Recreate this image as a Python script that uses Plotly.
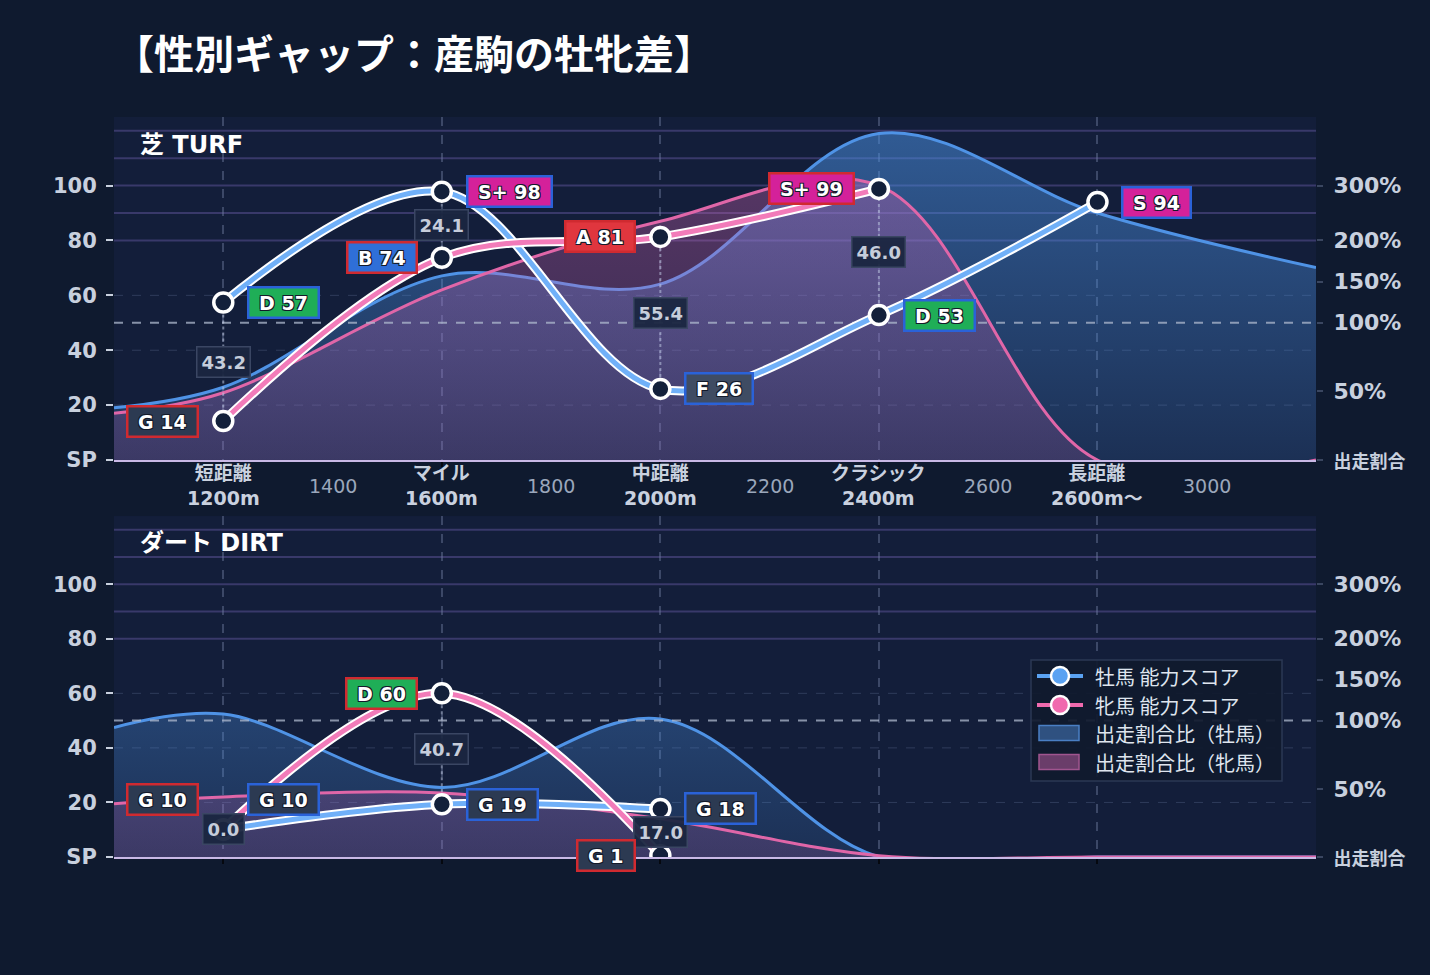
import plotly.graph_objects as go

# ---------------- data ----------------
cat_x = [1200, 1600, 2000, 2400, 2800]
cat_names = ["短距離", "マイル", "中距離", "クラシック", "長距離"]
cat_dist = ["1200m", "1600m", "2000m", "2400m", "2600m～"]
minor_x = [1400, 1800, 2200, 2600, 3000]

turf_male_score = [57.4, 97.8, 25.9, 52.8, 94.0]
turf_female_score = [14.2, 73.7, 81.3, 98.8, None]
turf_male_grade = ["D", "S+", "F", "D", "S"]
turf_female_grade = ["G", "B", "A", "S+", None]

dirt_male_score = [10.1, 19.3, 17.6, None, None]
dirt_female_score = [10.1, 60.0, 0.6, None, None]
dirt_male_grade = ["G", "G", "G", None, None]
dirt_female_grade = ["G", "D", "G", None, None]

ratio_x = [1000, 1200, 1600, 2000, 2400, 2800, 3200]
turf_male_ratio = [38, 53, 157, 147, 395, 250, 167]
turf_female_ratio = [34, 49, 140, 235, 300, 0, 0]
dirt_male_ratio = [95, 108, 51, 102, 0, 0, 0]
dirt_female_ratio = [39, 44, 47, 28, 1, 0, 0]

score_ticks = [0, 20, 40, 60, 80, 100]
score_tick_text = ["SP", "20", "40", "60", "80", "100"]
ratio_ticks = [0, 50, 100, 150, 200, 300]
ratio_tick_text = ["出走割合", "50%", "100%", "150%", "200%", "300%"]

legend_names = ["牡馬 能力スコア", "牝馬 能力スコア", "出走割合比（牡馬）", "出走割合比（牝馬）"]

# ---------------- styles ----------------
FONT = "DejaVu Sans, Noto Sans CJK JP, sans-serif"
CJK = "Noto Sans CJK JP, sans-serif"
PAPER = "#0f1a2f"
PLOT = "#131e3a"
MALE_AREA = "#4f93e6"
FEMALE_AREA = "#e066a8"
MALE_LINE = "#70b0f8"
FEMALE_LINE = "#f27bb9"
MALE_BORDER = "#2a62d8"
FEMALE_BORDER = "#d02a30"
GRADE_COLORS = {"S+": "#d4219a", "S": "#d4219a", "A": "#e0363e", "B": "#2f6fd8",
                "C": "#e0a020", "D": "#1fae57", "E": "#5a6a80", "F": "#3f4c63", "G": "#2c3a52"}
SHADOW = "-1px -1px 0 #141a2a, 1px -1px 0 #141a2a, -1px 1px 0 #141a2a, 1px 1px 0 #141a2a"
Y_MAX = 125
NB = "\u00a0"

W, H = 1430, 975
ML, MR, MT, MB = 114, 114, 117, 118


def px2x(p):
    return (p - ML) / (W - ML - MR)


def px2y(p):
    return (H - MB - p) / (H - MT - MB)


def ratio_to_axis(r):
    """piecewise scale of the ratio axis (0-100% / 100-200% / 200%+)"""
    if r <= 100:
        return r * 0.5
    if r <= 200:
        return 50 + (r - 100) * 0.3
    return 80 + (r - 200) * 0.2


fig = go.Figure()
annotations = []
shapes = []


def add_panel(xa, ya_ratio, ya_score, male_s, female_s, male_g, female_g, male_r, female_r):
    xref = xa
    fig.add_trace(go.Scatter(
        x=ratio_x, y=[ratio_to_axis(v) for v in male_r], xaxis=xa, yaxis=ya_ratio,
        mode="lines", line=dict(color=MALE_AREA, width=3, shape="spline", smoothing=1),
        fill="tozeroy",
        fillgradient=dict(type="vertical", start=0, stop=Y_MAX,
                          colorscale=[[0, "rgba(74,144,226,0.16)"], [1, "rgba(74,144,226,0.55)"]]),
        showlegend=False, hoverinfo="skip"))
    fig.add_trace(go.Scatter(
        x=ratio_x, y=[ratio_to_axis(v) for v in female_r], xaxis=xa, yaxis=ya_ratio,
        mode="lines", line=dict(color=FEMALE_AREA, width=3, shape="spline", smoothing=1),
        fill="tozeroy",
        fillgradient=dict(type="vertical", start=0, stop=Y_MAX,
                          colorscale=[[0, "rgba(214,100,180,0.17)"], [1, "rgba(214,100,180,0.38)"]]),
        showlegend=False, hoverinfo="skip"))
    fig.add_trace(go.Scatter(
        x=[ratio_x[0], ratio_x[-1]], y=[ratio_to_axis(100)] * 2, xaxis=xa, yaxis=ya_ratio,
        mode="lines", line=dict(color="rgba(175,185,205,0.75)", width=2, dash="dash"),
        showlegend=False, hoverinfo="skip"))
    for cx, m, f in zip(cat_x, male_s, female_s):
        if m is None or f is None:
            continue
        fig.add_trace(go.Scatter(
            x=[cx, cx], y=[m, f], xaxis=xa, yaxis=ya_score, mode="lines",
            line=dict(color="rgba(190,200,225,0.55)", width=2, dash="dot"),
            showlegend=False, hoverinfo="skip"))
    for vals, col in ((male_s, MALE_LINE), (female_s, FEMALE_LINE)):
        fig.add_trace(go.Scatter(
            x=cat_x, y=vals, xaxis=xa, yaxis=ya_score, mode="lines",
            line=dict(color="white", width=9, shape="spline", smoothing=1),
            showlegend=False, hoverinfo="skip"))
        fig.add_trace(go.Scatter(
            x=cat_x, y=vals, xaxis=xa, yaxis=ya_score, mode="lines+markers",
            line=dict(color=col, width=5, shape="spline", smoothing=1),
            marker=dict(size=19, color="#13203a", line=dict(color="white", width=3.5)),
            showlegend=False, hoverinfo="skip"))
    yref = ya_score
    for cx, m, f, mg, fg in zip(cat_x, male_s, female_s, male_g, female_g):
        shift = 0
        if m is not None and f is not None:
            if abs(m - f) < 5:
                shift = 30
            annotations.append(dict(
                x=cx, y=(m + f) / 2, xref=xref, yref=yref, text=f"<b>{abs(m - f):.1f}</b>",
                showarrow=False, font=dict(family=FONT, size=18, color="#c6cddb"),
                bgcolor="rgba(26,38,64,0.95)", bordercolor="#3a4663", borderwidth=1.5, borderpad=4))
        if m is not None:
            annotations.append(dict(
                x=cx, y=m, xref=xref, yref=yref, xanchor="left", xshift=24, yshift=shift,
                text=f"<b>{NB}{mg} {round(m)}{NB}</b>", showarrow=False,
                font=dict(family=FONT, size=19, color="white", shadow=SHADOW),
                bgcolor=GRADE_COLORS[mg], bordercolor=MALE_BORDER, borderwidth=2.5, borderpad=3))
        if f is not None:
            annotations.append(dict(
                x=cx, y=f, xref=xref, yref=yref, xanchor="right", xshift=-24, yshift=shift,
                text=f"<b>{NB}{fg} {round(f)}{NB}</b>", showarrow=False,
                font=dict(family=FONT, size=19, color="white", shadow=SHADOW),
                bgcolor=GRADE_COLORS[fg], bordercolor=FEMALE_BORDER, borderwidth=2.5, borderpad=3))
    for v in (20, 40, 60):
        shapes.append(dict(type="line", xref=f"{xa} domain", x0=0, x1=1, yref=ya_ratio, y0=v, y1=v,
                           line=dict(color="rgba(90,105,140,0.4)", width=1, dash="dash"), layer="below"))
    for v in (80, 90, 100, 110, 120):
        shapes.append(dict(type="line", xref=f"{xa} domain", x0=0, x1=1, yref=ya_ratio, y0=v, y1=v,
                           line=dict(color="#39396a", width=2), layer="below"))


add_panel("x", "y", "y2", turf_male_score, turf_female_score, turf_male_grade, turf_female_grade,
          turf_male_ratio, turf_female_ratio)
add_panel("x2", "y3", "y4", dirt_male_score, dirt_female_score, dirt_male_grade, dirt_female_grade,
          dirt_male_ratio, dirt_female_ratio)

# ---------------- legend (drawn in paper space) ----------------
shapes.append(dict(type="rect", xref="paper", yref="paper", x0=px2x(1031), x1=px2x(1282),
                   y0=px2y(781), y1=px2y(660), fillcolor="rgba(16,26,46,0.92)",
                   line=dict(color="#2b3954", width=1.5), layer="above"))
row_y = [676, 705, 733, 762]
line_cols = ["#5aa2f2", "#f06aae"]
for ry, col in zip(row_y[:2], line_cols):
    shapes.append(dict(type="line", xref="paper", yref="paper", x0=px2x(1037), x1=px2x(1083),
                       y0=px2y(ry), y1=px2y(ry), line=dict(color=col, width=4), layer="above"))
    shapes.append(dict(type="circle", xref="paper", yref="paper", x0=px2x(1051), x1=px2x(1069),
                       y0=px2y(ry + 9), y1=px2y(ry - 9), fillcolor=col,
                       line=dict(color="white", width=2.5), layer="above"))
for ry, fc, lc in zip(row_y[2:], ["#2f5180", "#6a3d6a"], ["#4a7fc4", "#a0558f"]):
    shapes.append(dict(type="rect", xref="paper", yref="paper", x0=px2x(1039), x1=px2x(1079),
                       y0=px2y(ry + 7.5), y1=px2y(ry - 7.5), fillcolor=fc,
                       line=dict(color=lc, width=1.5), layer="above"))
for ry, nm in zip(row_y, legend_names):
    annotations.append(dict(x=px2x(1093), y=px2y(ry), xref="paper", yref="paper", xanchor="left",
                            yanchor="middle", text=nm, showarrow=False,
                            font=dict(family=CJK, size=20, color="#dfe5ee")))

# x tick labels (top panel only)
for cx, nm, ds in zip(cat_x, cat_names, cat_dist):
    annotations.append(dict(x=cx, y=0.502, xref="x", yref="paper", yanchor="middle",
                            text=f"<b>{nm}<br>{ds}</b>", showarrow=False,
                            font=dict(family=FONT, size=19, color="#c9d1df")))
for mx in minor_x:
    annotations.append(dict(x=mx, y=0.502, xref="x", yref="paper", yanchor="middle",
                            text=str(mx), showarrow=False,
                            font=dict(family=FONT, size=19, color="#9ba7bb")))

annotations.append(dict(x=0.02, y=0.962, xref="paper", yref="paper", xanchor="left", yanchor="middle",
                        text="<b>芝 TURF</b>", showarrow=False, font=dict(family=FONT, size=24, color="white")))
annotations.append(dict(x=0.02, y=0.424, xref="paper", yref="paper", xanchor="left", yanchor="middle",
                        text="<b>ダート DIRT</b>", showarrow=False, font=dict(family=FONT, size=24, color="white")))

ratio_text = [f"<span style='font-size:18px'>{t}</span>" if i == 0 else t
              for i, t in enumerate(ratio_tick_text)]
tickfont_l = dict(family=FONT, size=21, color="#c8d0de", weight="bold")
tickfont_r = dict(family=FONT, size=22, color="#c8d0de", weight="bold")

xcommon = dict(range=[1000, 3200], tickvals=cat_x, ticks="outside", ticklen=5, tickwidth=1.5,
               tickcolor="#05080f", showticklabels=False, showgrid=True,
               gridcolor="rgba(110,125,160,0.45)", griddash="dash", gridwidth=1.5,
               showline=True, linecolor="#c9b9e6", linewidth=1.5, zeroline=False)
yratio = dict(range=[0, Y_MAX], side="right", tickvals=[ratio_to_axis(v) for v in ratio_ticks],
              ticktext=ratio_text, ticks="outside", ticklen=6, tickwidth=1.5, tickcolor="#3a4660",
              showgrid=False, zeroline=False, tickfont=tickfont_r, ticklabelstandoff=6)
yscore = dict(range=[0, Y_MAX], side="left", tickvals=score_ticks, ticktext=score_tick_text,
              ticks="outside", ticklen=7, tickwidth=2, tickcolor="#c8d0de", showgrid=False,
              zeroline=False, tickfont=tickfont_l, ticklabelstandoff=5)

fig.update_layout(
    width=W, height=H,
    paper_bgcolor=PAPER, plot_bgcolor=PLOT,
    margin=dict(l=ML, r=MR, t=MT, b=MB),
    font=dict(family=FONT, color="#c8d0de"),
    title=dict(text="<b>【性別ギャップ：産駒の牡牝差】</b>", x=0, xref="paper", xanchor="left",
               y=1 - 55 / 975, yref="container", yanchor="middle",
               font=dict(family=CJK, size=40, color="white")),
    xaxis=dict(domain=[0, 1], anchor="y", **xcommon),
    yaxis=dict(domain=[0.5365, 1], anchor="x", **yratio),
    yaxis2=dict(overlaying="y", anchor="x", **yscore),
    xaxis2=dict(domain=[0, 1], anchor="y3", **xcommon),
    yaxis3=dict(domain=[0, 0.4608], anchor="x2", **yratio),
    yaxis4=dict(overlaying="y3", anchor="x2", **yscore),
    annotations=annotations,
    shapes=shapes,
    showlegend=False,
    hovermode=False,
)

fig.write_html("out.html")
